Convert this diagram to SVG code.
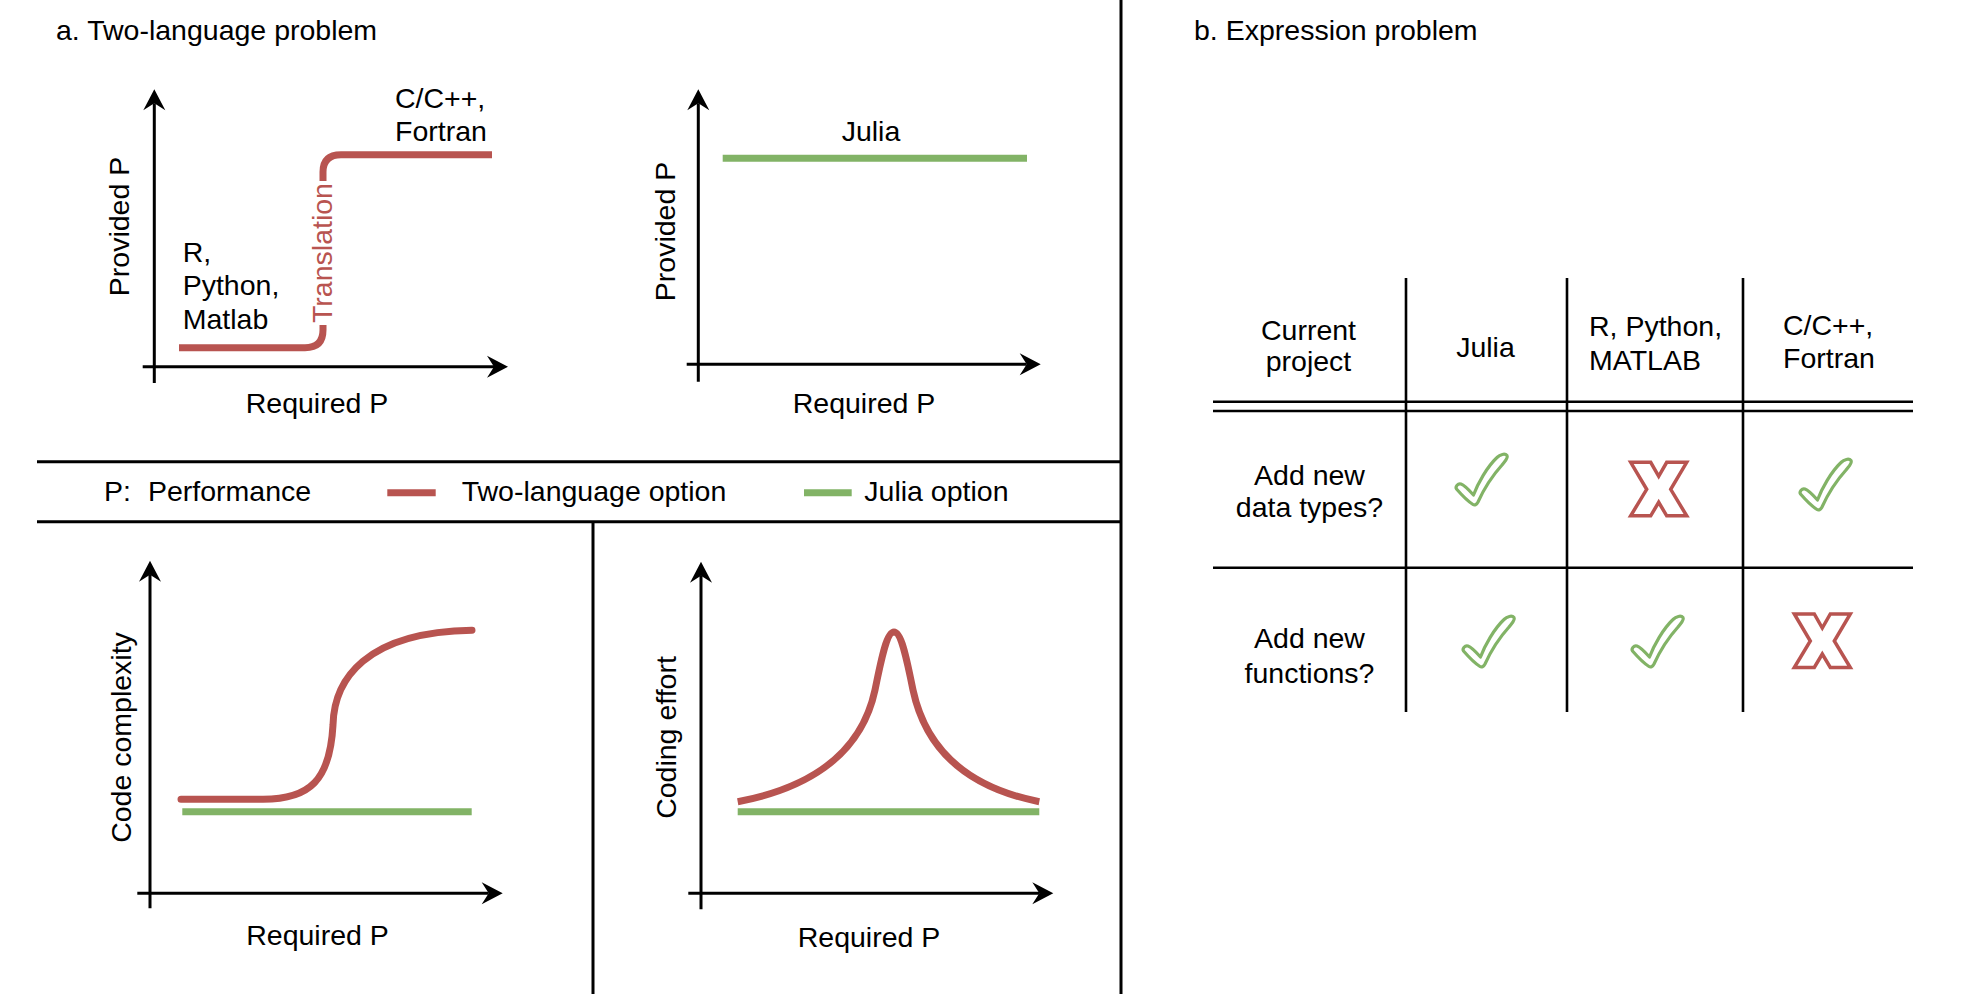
<svg xmlns="http://www.w3.org/2000/svg" width="1986" height="994" viewBox="0 0 1986 994">
<defs>
<style>
text{font-family:"Liberation Sans",Arial,sans-serif;font-size:28.5px;fill:#000}
.mid{text-anchor:middle}
.red{fill:#b85450}
.ax{stroke:#000;stroke-width:3;fill:none;marker-end:url(#arr)}
.rule{stroke:#000;stroke-width:3;fill:none}
.tl{stroke:#000;stroke-width:2.6;fill:none}
.rc{stroke:#b85450;stroke-width:7;fill:none}
.gc{stroke:#82b366;stroke-width:7;fill:none}
.chk{fill:#fff;stroke:#82b366;stroke-width:3.2;stroke-linejoin:round}
.x{fill:#fff;stroke:#b85450;stroke-width:3.5;stroke-linejoin:miter}
</style>
<marker id="arr" markerUnits="userSpaceOnUse" markerWidth="23" markerHeight="24" viewBox="-8 -12 23 24" refX="0" refY="0" orient="auto">
<path d="M14,0 L-7,-11 L0,0 L-7,11 Z" fill="#000"/>
</marker>
<path id="check" class="chk" d="M18,51.5 C14,49 5,40 1.5,36 C0,33.5 3,30 6,31 C9,32 14,37 18.5,42 C23,30 32,14 42,4.5 C45,1.5 50,0 52,2.5 C53.5,5 50,8 47,12 C38,22 28,38 23,49 C21.5,52 19.5,52.5 18,51.5 Z"/>
<path id="cross" class="x" d="M0,0 H20 L28,14 L36,0 H56 L40,27 L56,53.5 H36 L28,40 L20,53.5 H0 L16,27 Z"/>
</defs>
<rect width="1986" height="994" fill="#fff"/>

<g id="frame">
<path class="rule" d="M1121,0 V994"/>
<path class="rule" d="M37,461.7 H1121"/>
<path class="rule" d="M37,521.7 H1121"/>
<path class="rule" d="M593,521.7 V994"/>
</g>

<g id="title-a"><text x="56" y="40">a. Two-language problem</text></g>
<g id="title-b"><text x="1194" y="40">b. Expression problem</text></g>

<g id="chart1">
<path class="rc" d="M179,347.7 H305 Q323,347.7 323,330 V172 Q323,154.7 341,154.7 H492"/>
<rect x="308" y="181" width="28" height="144" fill="#fff"/>
<text transform="rotate(-90 331.7 253)" x="331.7" y="253" class="mid red">Translation</text>
<text transform="rotate(-90 129.3 226.5)" x="129.3" y="226.5" class="mid">Provided P</text>
<text x="182.7" y="261.7">R,</text>
<text x="182.7" y="295">Python,</text>
<text x="182.7" y="329.3">Matlab</text>
<text x="395" y="108.3">C/C++,</text>
<text x="395" y="141">Fortran</text>
<text x="317" y="413" class="mid">Required P</text>
</g>

<g id="chart2">
<path class="gc" d="M722.7,158.3 H1027"/>
<text x="871" y="141" class="mid">Julia</text>
<text transform="rotate(-90 675 231.5)" x="675" y="231.5" class="mid">Provided P</text>
<text x="864" y="413" class="mid">Required P</text>
</g>

<g id="legend">
<text x="104" y="500.7">P:</text>
<text x="148" y="500.7">Performance</text>
<path class="rc" d="M387.3,492.7 H435.7"/>
<text x="461.7" y="500.7">Two-language option</text>
<path class="gc" d="M804,492.7 H851.7"/>
<text x="864.3" y="500.7">Julia option</text>
</g>

<g id="chart3">
<path class="gc" d="M182.3,811.7 H471.7"/>
<path class="rc" stroke-linecap="round" d="M181,799.3 H263 C310,799.3 330,780 333,725 C334,680 365,632 472,630.3"/>
<text transform="rotate(-90 131 737.5)" x="131" y="737.5" class="mid">Code complexity</text>
<text x="317.5" y="945" class="mid">Required P</text>
</g>

<g id="chart4">
<path class="gc" d="M737.7,811.7 H1039.3"/>
<path class="rc" d="M737.7,801.7 C800,790 860,760 875,690 C882,655 887,632 894,632 C901,632 906,655 913,690 C928,760 980,790 1039.3,801.7"/>
<text transform="rotate(-90 676 737.5)" x="676" y="737.5" class="mid">Coding effort</text>
<text x="869" y="946.7" class="mid">Required P</text>
</g>

<g id="connectors">
<path class="ax" d="M154.3,383 V103.3"/>
<path class="ax" d="M142.7,366.7 H494"/>
<path class="ax" d="M698.3,381.7 V103.3"/>
<path class="ax" d="M686.7,364.3 H1026.7"/>
<path class="ax" d="M150,908.3 V574.7"/>
<path class="ax" d="M137.3,893.3 H488.7"/>
<path class="ax" d="M701,909.3 V575.7"/>
<path class="ax" d="M688.3,893.3 H1039.3"/>
</g>

<g id="table">
<path class="tl" d="M1406,278 V712 M1567,278 V712 M1743,278 V712"/>
<path class="tl" d="M1213,401.7 H1913 M1213,411 H1913 M1213,567.7 H1913"/>
<g id="hdr-current"><text x="1308.5" y="340" class="mid">Current</text><text x="1308.5" y="371" class="mid">project</text></g>
<g id="hdr-julia"><text x="1485.5" y="357" class="mid">Julia</text></g>
<g id="hdr-rpy"><text x="1589" y="336">R, Python,</text><text x="1589" y="370">MATLAB</text></g>
<g id="hdr-c"><text x="1783" y="335">C/C++,</text><text x="1783" y="368">Fortran</text></g>
<g id="row-types"><text x="1309.5" y="485" class="mid">Add new</text><text x="1309.5" y="517" class="mid">data types?</text></g>
<g id="row-funcs"><text x="1309.5" y="648" class="mid">Add new</text><text x="1309.5" y="682.5" class="mid">functions?</text></g>
<use href="#check" x="1455" y="453"/>
<use href="#cross" x="1630.7" y="462.3"/>
<use href="#check" x="1799" y="458"/>
<use href="#check" x="1462" y="615"/>
<use href="#check" x="1631" y="615"/>
<use href="#cross" x="1794.3" y="614"/>
</g>
</svg>
